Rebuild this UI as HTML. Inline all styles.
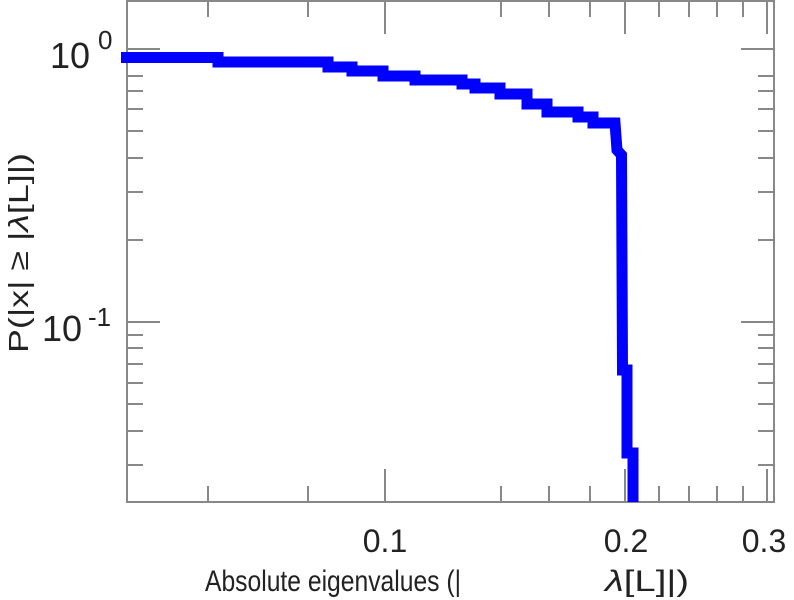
<!DOCTYPE html>
<html><head><style>body{margin:0;background:#fff}svg{display:block}</style></head><body>
<svg width="794" height="600" xmlns="http://www.w3.org/2000/svg" font-family="Liberation Sans, sans-serif">
<defs><clipPath id="c"><rect x="110" y="0" width="670" height="502"/></clipPath></defs>
<g stroke="#888" stroke-width="2" fill="none">
<rect x="127" y="1" width="647" height="501"/>
<path d="M127 49h33M127 76h16M127 91h16M127 109h16M127 131h16M127 158h16M127 192h16M127 240h16M127 322h33M127 335h16M127 348h16M127 364h16M127 383h16M127 404h16M127 431h16M127 465h16"/>
<path d="M774 49h-33M774 76h-16M774 91h-16M774 109h-16M774 131h-16M774 158h-16M774 192h-16M774 240h-16M774 322h-33M774 335h-16M774 348h-16M774 364h-16M774 383h-16M774 404h-16M774 431h-16M774 465h-16"/>
<path d="M208 502v-16M308 502v-16M385 502v-33M501 502v-16M549 502v-16M590 502v-16M625 502v-33M659 502v-16M689 502v-16M717 502v-16M743 502v-16M767 502v-33"/>
<path d="M208 1v16M308 1v16M385 1v33M501 1v16M549 1v16M590 1v16M625 1v33M659 1v16M689 1v16M717 1v16M743 1v16M767 1v33"/>
</g>
<path clip-path="url(#c)" fill="none" stroke="#0000ff" stroke-width="11" d="M121 57.5H218V62H328V67H352V71H383V76H415V80H462V84H475V88H500V94H527V104H547V112H578V117H593V123H615L617 150L621.5 155L622.5 370H627V453H633V510"/>
<g fill="#222">
<text x="50" y="68" font-size="36">10</text><text x="98" y="49" font-size="26">0</text>
<text x="42" y="341" font-size="36">10</text><text x="88" y="326" font-size="26">-1</text>
<text x="385" y="552" text-anchor="middle" font-size="32">0.1</text>
<text x="626" y="552" text-anchor="middle" font-size="32">0.2</text>
<text x="764" y="552" text-anchor="middle" font-size="32">0.3</text>
<text x="205" y="591" font-size="30" textLength="256" lengthAdjust="spacingAndGlyphs">Absolute eigenvalues (|</text>
<text x="605" y="591" font-size="30" textLength="84" lengthAdjust="spacingAndGlyphs"><tspan font-style="italic">λ</tspan>[L]|)</text>
<text transform="translate(28,253) rotate(-90)" text-anchor="middle" font-size="28" textLength="200" lengthAdjust="spacingAndGlyphs">P(|x|  ≥ |<tspan font-style="italic">λ</tspan>[L]|)</text>
</g>
</svg>
</body></html>
